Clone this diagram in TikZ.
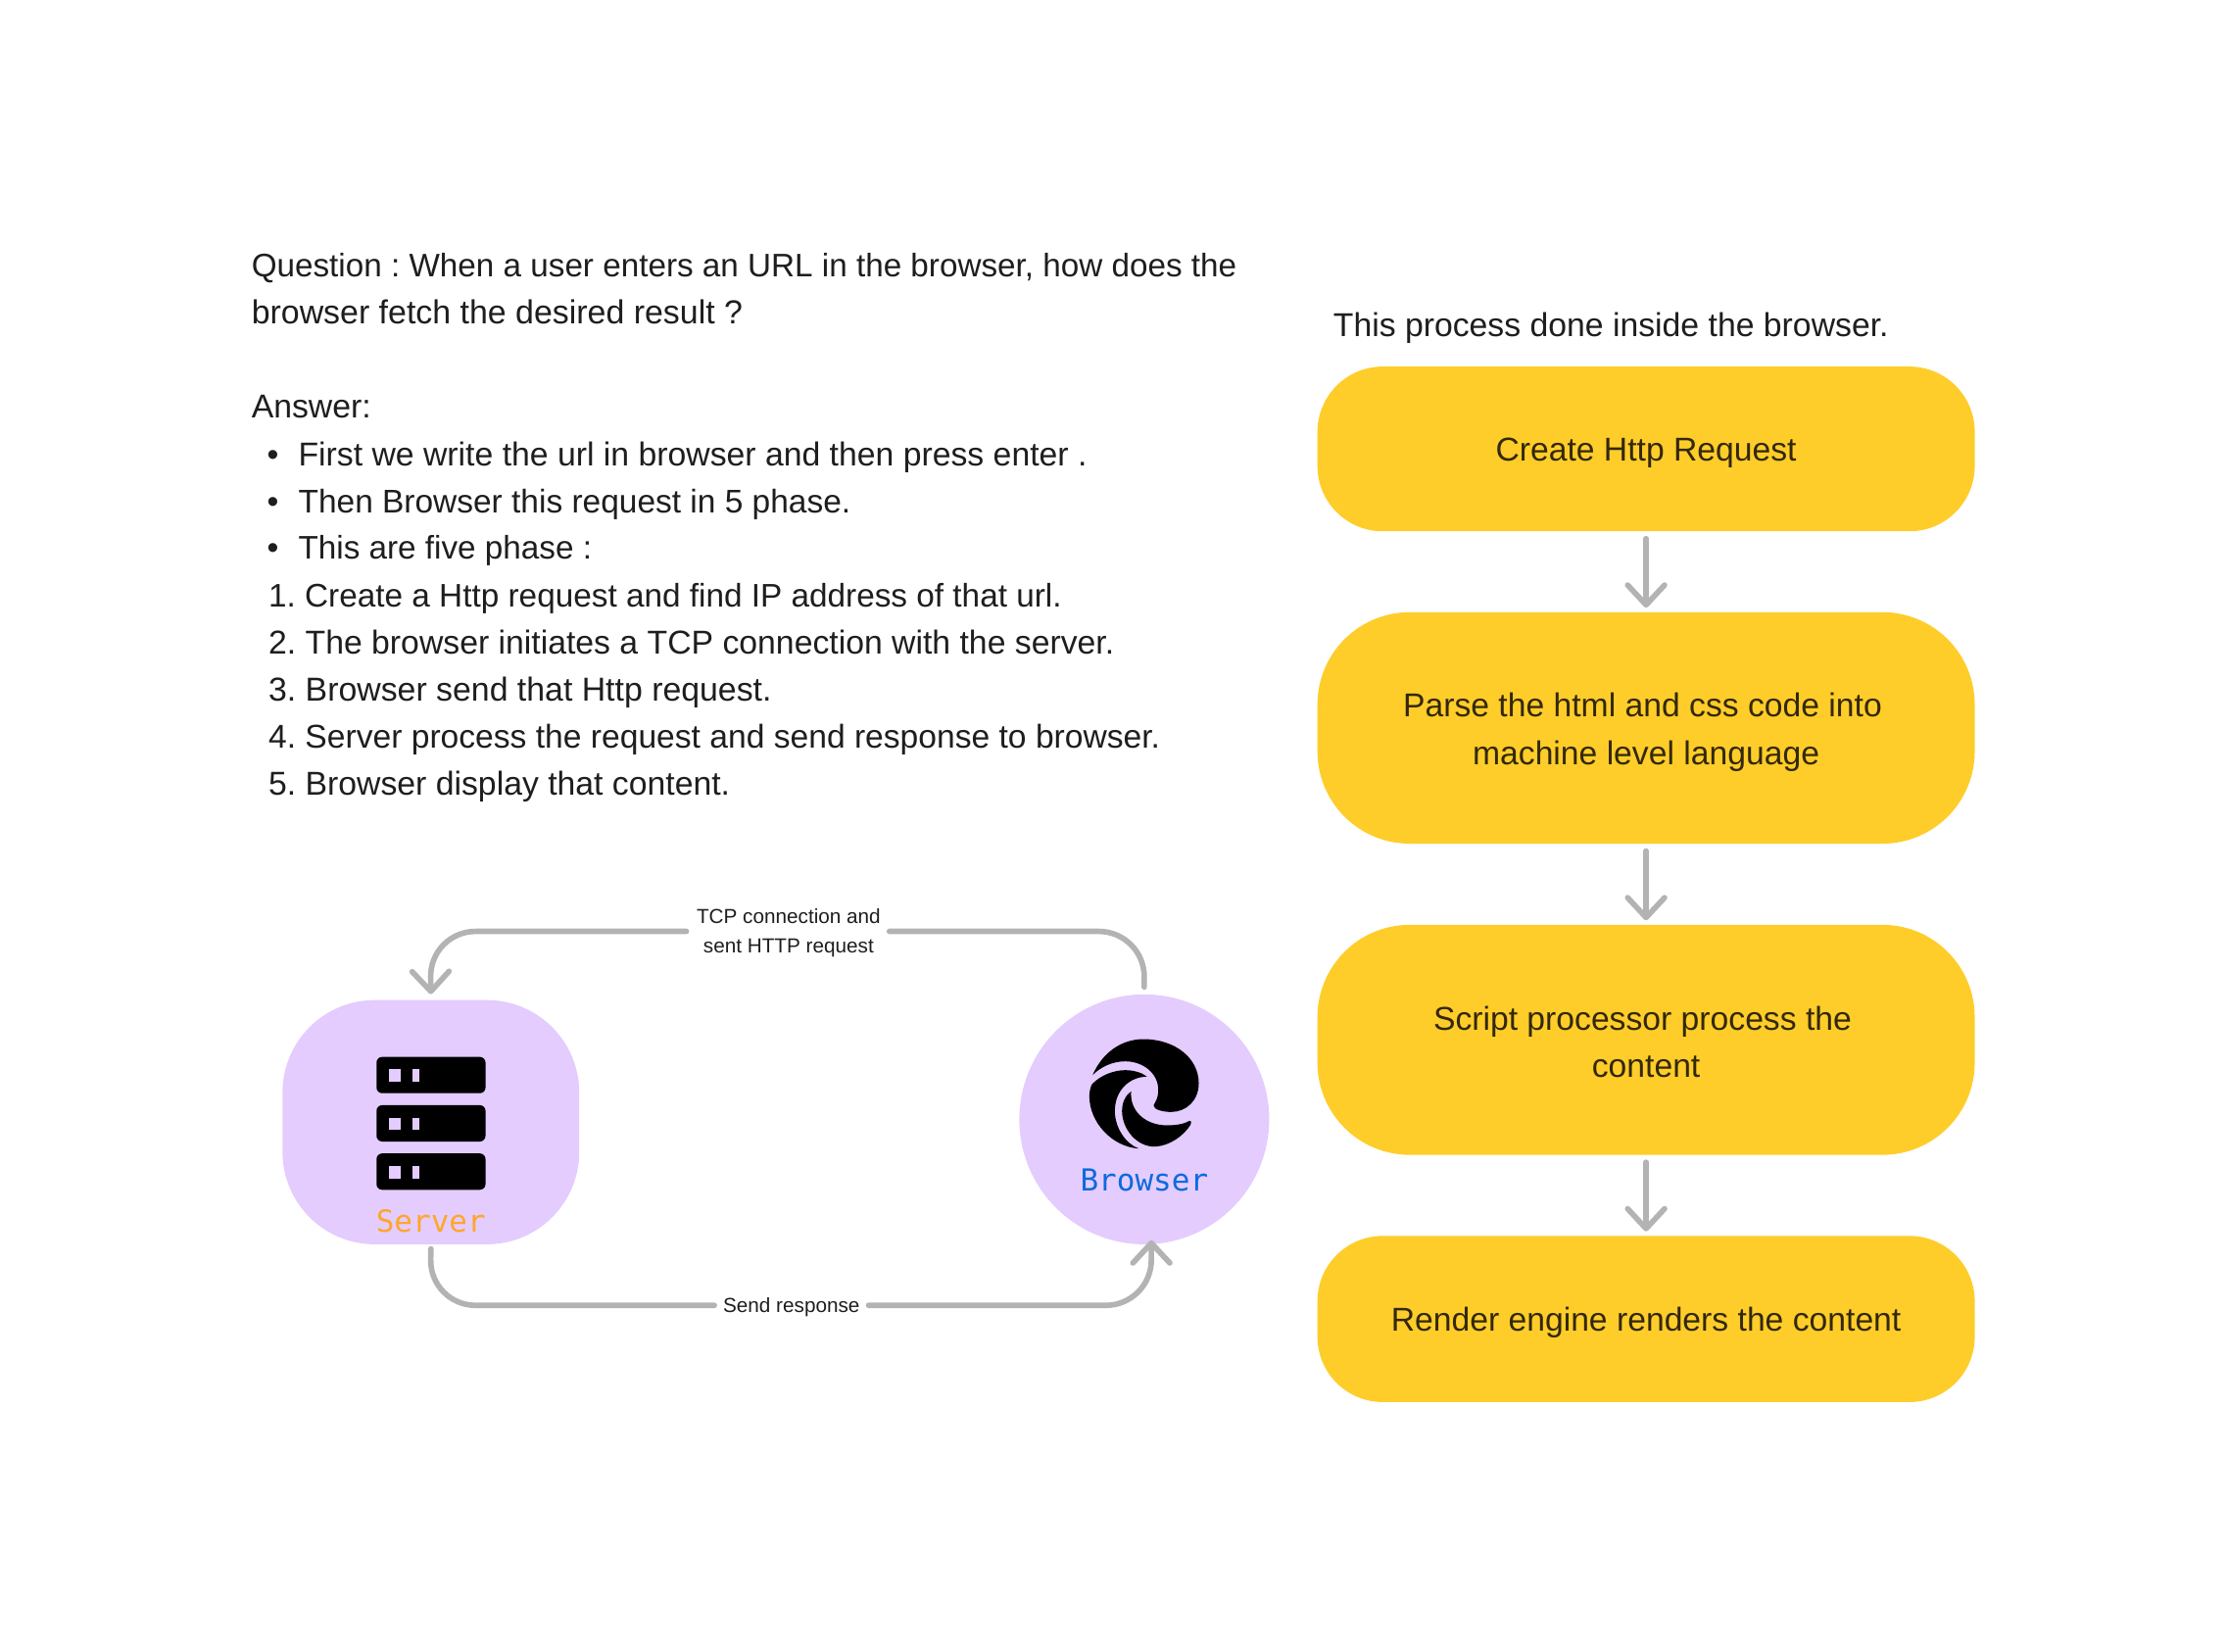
\documentclass[tikz,border=0pt]{standalone}
\usepackage{fontspec}
\setmainfont{Liberation Sans}
\newfontfamily\monof{DejaVu Sans Mono}
\usetikzlibrary{arrows.meta}
\frenchspacing
\definecolor{yel}{HTML}{FFCD29}
\definecolor{lil}{HTML}{E4CCFF}
\definecolor{ink}{HTML}{1E1E1E}
\definecolor{inky}{HTML}{33280A}
\definecolor{conn}{HTML}{B3B3B3}
\definecolor{org}{HTML}{FFA629}
\definecolor{blu}{HTML}{0B6BDB}
\newcommand{\fs}[1]{\fontsize{#1}{33}\selectfont}
\tikzset{
  body/.style={anchor=base west,inner sep=0pt,text=ink,font=\fontsize{23.3}{33}\selectfont},
  ybox/.style={fill=yel,minimum width=463pt,inner sep=0pt},
  ytext/.style={text=inky,align=center,inner sep=0pt,font=\fontsize{23.25}{33.2}\selectfont},
  wire/.style={draw=conn,line width=3.9pt,line cap=round,line join=round},
  barb/.style={-{Straight Barb[length=14pt,width=26pt,round]}},
  lbl/.style={inner sep=0pt,text=ink,align=center,font=\fontsize{14.3}{21}\selectfont},
  srvbar/.style={fill=black,rounded corners=4pt},
  srvdot/.style={fill=lil},
  tag/.style={inner sep=0pt,font=\monof\fontsize{21.4}{26}\selectfont},
}
\begin{document}
\begin{tikzpicture}[x=1pt,y=-1pt]
\useasboundingbox (0,0) rectangle (1568,1162.9);
\fill[white] (0,0) rectangle (1568,1162.9);

% left text
\node[body] (t1) at (177,195) {\fs{22.95}Question : When a user enters an URL in the browser, how does the};
\node[body] (t2) at (177,228) {\fs{23.4}browser fetch the desired result ?};
\node[body] (t3) at (177,294) {Answer:};
\node[body] (b1m) at (188,328) {•};
\node[body] (b2m) at (188,361) {•};
\node[body] (b3m) at (188,394) {•};
\node[body] (t4) at (210,328) {First we write the url in browser and then press enter .};
\node[body] (t5) at (210,361) {\fs{23.1}Then Browser this request in 5 phase.};
\node[body] (t6) at (210,394) {\fs{22.96}This are five phase :};
\node[body] (t7) at (189,427.3) {\fs{23}1. Create a Http request and find IP address of that url.};
\node[body] (t8) at (189,460.7) {\fs{23.3}2. The browser initiates a TCP connection with the server.};
\node[body] (t9) at (189,493.8) {\fs{23.35}3. Browser send that Http request.};
\node[body] (t10) at (189,527.2) {\fs{23.2}4. Server process the request and send response to browser.};
\node[body] (t11) at (189,560.3) {5. Browser display that content.};
\node[body] (t12) at (939,237) {This process done inside the browser.};

% flow boxes
\node[ybox,minimum height=116pt,rounded corners=46pt] (f1) at (1159.5,316.2) {};
\node[ybox,minimum height=163pt,rounded corners=65pt] (f2) at (1159.5,512.7) {};
\node[ybox,minimum height=162pt,rounded corners=65pt] (f3) at (1159.5,732.4) {};
\node[ybox,minimum height=117pt,rounded corners=46pt] (f4) at (1159.5,929) {};
\node[ytext] (f1t) at ([yshift=-2.8pt]f1.center) {Create Http Request};
\node[ytext] (f2t) at ([yshift=-3pt]f2.center) {Parse the html and css code into\hspace*{5pt}\\machine level language};
\node[ytext] (f3t) at ([yshift=-1.3pt]f3.center) {Script processor process the\hspace*{5pt}\\content};
\node[ytext] (f4t) at ([yshift=-2.8pt]f4.center) {Render engine renders the content};
\draw[wire,barb,shorten <=5pt,shorten >=3pt] (f1) -- (f2);
\draw[wire,barb,shorten <=5pt,shorten >=3pt] (f2) -- (f3);
\draw[wire,barb,shorten <=5pt,shorten >=3pt] (f3) -- (f4);

% server and browser
\node[fill=lil,minimum width=209pt,minimum height=172pt,rounded corners=65pt,inner sep=0pt] (server) at (303.5,790.4) {};
\node[fill=lil,circle,minimum size=176pt,inner sep=0pt] (browser) at (806,788.4) {};

\fill[srvbar] (265.2,744.4) rectangle (342,770);
\fill[srvbar] (265.2,778.4) rectangle (342,804);
\fill[srvbar] (265.2,812.4) rectangle (342,838);
\foreach \yy in {752.9,787.2,821.2}{
  \fill[srvdot] (273.8,\yy) rectangle (282.5,\yy+8.7);
  \fill[srvdot] (290.8,\yy) rectangle (295.2,\yy+8.7);
}
\node[tag,text=org] (srvtag) at (303.5,860) {Server};
\node[tag,text=blu] (brwtag) at (806,831) {Browser};

% browser emblem
\begin{scope}[shift={(731.7,711.2)},x=0.23pt,y=-0.23pt]
\fill[black] (165,200) .. controls (195,130) and (255,90) .. (320,90)
  .. controls (420,90) and (490,150) .. (490,225)
  .. controls (490,280) and (450,313) .. (405,313)
  .. controls (380,313) and (350,305) .. (352,293)
  .. controls (354,285) and (366,275) .. (366,245)
  .. controls (366,195) and (320,158) .. (265,158)
  .. controls (225,158) and (190,175) .. (165,200) -- cycle;
\fill[black] (163,228) .. controls (190,200) and (230,185) .. (265,185)
  .. controls (295,185) and (320,195) .. (331,205)
  .. controls (280,205) and (233,245) .. (233,310)
  .. controls (233,360) and (265,410) .. (306,425)
  .. controls (225,420) and (155,345) .. (155,265)
  .. controls (155,250) and (158,238) .. (163,228) -- cycle;
\fill[black] (283,250) .. controls (278,305) and (320,352) .. (390,354)
  .. controls (420,354) and (445,350) .. (462,340)
  .. controls (468,338) and (468,346) .. (465,352)
  .. controls (445,385) and (400,418) .. (355,419)
  .. controls (300,420) and (255,365) .. (255,310)
  .. controls (255,285) and (265,262) .. (283,250) -- cycle;
\end{scope}

% connectors
\node[lbl] (lt) at (555.5,657) {TCP connection and\\sent HTTP request};
\node[lbl] (lb) at (557.5,920.5) {Send response};
\coordinate (tr) at (806,656);
\coordinate (tl) at (303,656);
\coordinate (br) at (811,919.4);
\coordinate (bl) at (303,919.4);
\draw[wire,rounded corners=32pt] ([yshift=5pt]browser.north) -- (tr) -- ([xshift=6pt]lt.east |- tr);
\draw[wire,barb,rounded corners=32pt] ([xshift=-7pt]lt.west |- tl) -- (tl) -- ([yshift=4pt]server.north);
\draw[wire,rounded corners=32pt] ([yshift=-3pt]server.south) -- (bl) -- ([xshift=-6pt]lb.west |- bl);
\draw[wire,barb,rounded corners=32pt] ([xshift=6pt]lb.east |- br) -- (br) -- ([xshift=5pt,yshift=3pt]browser.south);
\end{tikzpicture}
\end{document}
